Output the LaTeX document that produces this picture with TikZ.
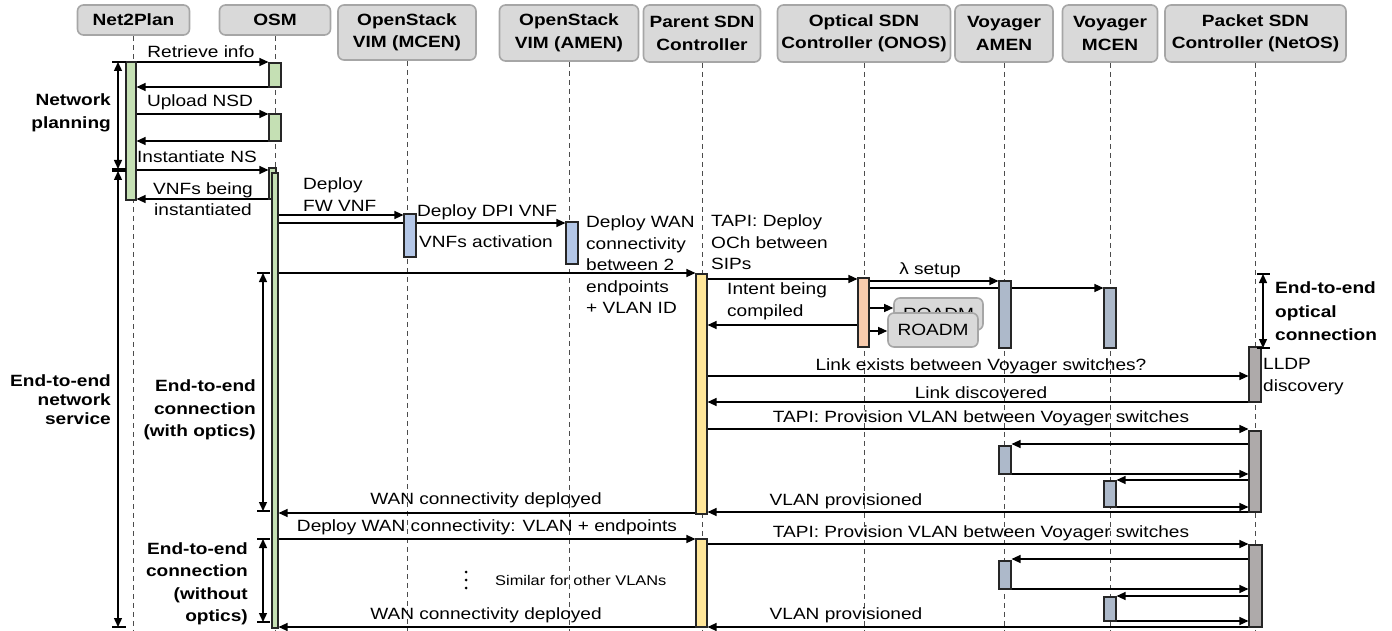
\documentclass[tikz,border=0pt]{standalone}
\usepackage{fontspec}
\setmainfont{Liberation Sans}[FakeStretch=1.17]
\usetikzlibrary{arrows.meta,fit,backgrounds}
\definecolor{hdrfill}{HTML}{D9D9D9}
\definecolor{hdrline}{HTML}{A6A6A6}
\definecolor{cgreen}{HTML}{C5E0B4}
\definecolor{cblue}{HTML}{B4C7E7}
\definecolor{cyellow}{HTML}{FFE699}
\definecolor{corange}{HTML}{F8CBAD}
\definecolor{cslate}{HTML}{ADB9CA}
\definecolor{cgray}{HTML}{AEAAAA}
\tikzset{
  basefont/.style={font=\fontsize{16.3}{21.5}\selectfont},
  hdr/.style={draw=hdrline, fill=hdrfill, line width=1.6pt, rounded corners=6pt, align=center,
    inner sep=0pt, font=\fontsize{16.3}{22.5}\selectfont\bfseries},
  roadm/.style={draw=hdrline, fill=hdrfill, line width=1.6pt, rounded corners=6pt, inner sep=0pt,
    font=\fontsize{16.3}{21.5}\selectfont},
  actbar/.style={draw=black!85, line width=1.1pt, inner sep=0pt, fill=#1},
  msg/.style={line width=1.2pt, -{Triangle[length=9pt,width=8pt]}},
  life/.style={draw=black!70, line width=0.9pt, dash pattern=on 5pt off 4pt},
  lbl/.style={inner sep=0pt, align=center, basefont},
  lbll/.style={inner sep=0pt, align=left, basefont},
  blbl/.style={inner sep=0pt, align=right, font=\fontsize{16.3}{22.5}\selectfont\bfseries},
  spanarrow/.style={line width=1.4pt, {Triangle[length=9pt,width=8pt]}-{Triangle[length=9pt,width=8pt]}},
  tbar/.style={line width=1.4pt},
}
\pgfdeclarelayer{bg}
\pgfsetlayers{bg,main}
\begin{document}
\begin{tikzpicture}[x=1pt,y=-1pt]
\useasboundingbox (0,0) rectangle (1392,631);

% ---------- headers ----------
\node[hdr, minimum width=112pt, minimum height=30pt] (hN) at (133.5,20) {Net2Plan};
\node[hdr, minimum width=111pt, minimum height=30pt] (hO) at (275,20) {OSM};
\node[hdr, minimum width=138pt, minimum height=55pt] (hM) at (407,32.5) {OpenStack\\VIM (MCEN)};
\node[hdr, minimum width=139pt, minimum height=56pt] (hA) at (569,33) {OpenStack\\VIM (AMEN)};
\node[hdr, minimum width=117pt, minimum height=57pt] (hP) at (702,33.5) {Parent SDN\\Controller};
\node[hdr, minimum width=173pt, minimum height=57pt] (hQ) at (864,33.5) {Optical SDN\\Controller (ONOS)};
\node[hdr, minimum width=98pt, minimum height=57pt] (hVA) at (1004,33.5) {Voyager\\AMEN};
\node[hdr, minimum width=95pt, minimum height=57pt] (hVM) at (1110,33.5) {Voyager\\MCEN};
\node[hdr, minimum width=181pt, minimum height=57pt] (hK) at (1255.5,33.5) {Packet SDN\\Controller (NetOS)};

% lifeline ends
\coordinate (eN) at (133.5,631);
\coordinate (eO) at (275,631);
\coordinate (eM) at (407,631);
\coordinate (eA) at (569,631);
\coordinate (eP) at (702,631);
\coordinate (eQ) at (864,631);
\coordinate (eVA) at (1004,631);
\coordinate (eVM) at (1110,631);
\coordinate (eK) at (1255.5,631);

% ---------- activation bars ----------
\node[actbar=cgreen, fit={(126,62)(136,200)}] (bN) {};
\node[actbar=cgreen, fit={(269,63)(281,87)}] (bO1) {};
\node[actbar=cgreen, fit={(269,114)(281,141)}] (bO2) {};
\node[actbar=cgreen, fit={(269,168)(276,199)}] (bO3) {};
\node[actbar=cgreen, fit={(272,173)(278,628)}] (bO4) {};
\node[actbar=cblue, fit={(404,214)(416,257)}] (bM) {};
\node[actbar=cblue, fit={(566,222)(578,264)}] (bA) {};
\node[actbar=cyellow, fit={(696,274)(707,514)}] (bP1) {};
\node[actbar=cyellow, fit={(696,539)(707,627)}] (bP2) {};
\node[actbar=corange, fit={(858,278)(869,347)}] (bQ) {};
\node[actbar=cslate, fit={(999,281)(1011,348)}] (bVA1) {};
\node[actbar=cslate, fit={(1104,288)(1116,348)}] (bVM1) {};
\node[actbar=cgray, fit={(1249,347)(1261,402)}] (bK1) {};
\node[actbar=cgray, fit={(1249,431)(1261,512)}] (bK2) {};
\node[actbar=cslate, fit={(999,446)(1011,474)}] (bVA2) {};
\node[actbar=cslate, fit={(1104,481)(1116,507)}] (bVM2) {};
\node[actbar=cgray, fit={(1249,545)(1262,627)}] (bK3) {};
\node[actbar=cslate, fit={(999,561)(1011,589)}] (bVA3) {};
\node[actbar=cslate, fit={(1104,597)(1116,621)}] (bVM3) {};

% ROADM boxes
\node[roadm, minimum width=89pt, minimum height=32pt] (rB) at (938.5,314) {ROADM};
\node[roadm, minimum width=90pt, minimum height=34pt] (rF) at (933,330) {ROADM};

% ---------- lifelines and messages (background) ----------
\begin{pgfonlayer}{bg}
\draw[life] (hN.south) -- (eN);
\draw[life] (hO.south) -- (eO);
\draw[life] (hM.south) -- (eM);
\draw[life] (hA.south) -- (eA);
\draw[life] (hP.south) -- (eP);
\draw[life] (hQ.south) -- (eQ);
\draw[life] (hVA.south) -- (eVA);
\draw[life] (hVM.south) -- (eVM);
\draw[life] (hK.south) -- (eK);

\draw[msg] (bN.east |- 0,62) -- (bO1.west |- 0,62);
\draw[msg] (bO1.west |- 0,87) -- (bN.east |- 0,87);
\draw[msg] (bN.east |- 0,114) -- (bO2.west |- 0,114);
\draw[msg] (bO2.west |- 0,141) -- (bN.east |- 0,141);
\draw[msg] (bN.east |- 0,170) -- (bO3.west |- 0,170);
\draw[msg] (bO3.west |- 0,199) -- (bN.east |- 0,199);
\draw[msg] (bO4.east |- 0,215) -- (bM.west |- 0,215);
\draw[msg] (bO4.east |- 0,223) -- (bA.west |- 0,223);
\draw[msg] (bO4.east |- 0,273) -- (bP1.west |- 0,273);
\draw[msg] (bP1.east |- 0,279) -- (bQ.west |- 0,279);
\draw[msg] (bQ.west |- 0,325) -- (bP1.east |- 0,325);
\draw[msg] (bQ.east |- 0,308) -- (rB.west |- 0,308);
\draw[msg] (bQ.east |- 0,331) -- (rF.west |- 0,331);
\draw[msg] (bQ.east |- 0,281) -- (bVA1.west |- 0,281);
\draw[msg] (bQ.east |- 0,288) -- (bVM1.west |- 0,288);
\draw[msg] (bP1.east |- 0,376) -- (bK1.west |- 0,376);
\draw[msg] (bK1.west |- 0,402) -- (bP1.east |- 0,402);
\draw[msg] (bP1.east |- 0,429) -- (bK2.west |- 0,429);
\draw[msg] (bK2.west |- 0,444) -- (bVA2.east |- 0,444);
\draw[msg] (bVA2.east |- 0,474) -- (bK2.west |- 0,474);
\draw[msg] (bK2.west |- 0,480) -- (bVM2.east |- 0,480);
\draw[msg] (bVM2.east |- 0,507) -- (bK2.west |- 0,507);
\draw[msg] (bK2.west |- 0,512) -- (bP1.east |- 0,512);
\draw[msg] (bP1.west |- 0,513) -- (bO4.east |- 0,513);
\draw[msg] (bO4.east |- 0,539) -- (bP2.west |- 0,539);
\draw[msg] (bP2.east |- 0,544) -- (bK3.west |- 0,544);
\draw[msg] (bK3.west |- 0,559) -- (bVA3.east |- 0,559);
\draw[msg] (bVA3.east |- 0,589) -- (bK3.west |- 0,589);
\draw[msg] (bK3.west |- 0,596) -- (bVM3.east |- 0,596);
\draw[msg] (bVM3.east |- 0,621) -- (bK3.west |- 0,621);
\draw[msg] (bK3.west |- 0,627) -- (bP2.east |- 0,627);
\draw[msg] (bP2.west |- 0,627) -- (bO4.east |- 0,627);
\end{pgfonlayer}

% ---------- message labels ----------
\node[lbl] (tRet) at (201,52) {Retrieve info};
\node[lbl] (tUp) at (200,102) {Upload NSD};
\node[lbl] (tInst) at (197,157) {Instantiate NS};
\node[lbl] (tBeing) at (203,199) {VNFs being\\instantiated};
\node[lbll, anchor=west] (tFW) at (303,194.5) {Deploy\\FW VNF};
\node[lbll, anchor=west] (tDPI) at (417,212) {Deploy DPI VNF};
\node[lbll, anchor=west] (tAct) at (419,242) {VNFs activation};
\node[lbll, anchor=west] (tWAN) at (586,265) {Deploy WAN\\connectivity\\between 2\\endpoints\\+ VLAN ID};
\node[lbll, anchor=west] (tOCh) at (711,242.5) {TAPI: Deploy\\OCh between\\SIPs};
\node[lbll, anchor=west] (tIntent) at (727,301.5) {Intent being\\compiled};
\node[lbl] (tLam) at (930,270) {λ setup};
\node[lbl] (tLink) at (981,366) {Link exists between Voyager switches?};
\node[lbl] (tDisc) at (981,393) {Link discovered};
\node[lbl] (tProv1) at (981,418) {TAPI: Provision VLAN between Voyager switches};
\node[lbl] (tVP1) at (846,501) {VLAN provisioned};
\node[lbl] (tWD1) at (486,500) {WAN connectivity deployed};
\node[lbl] (tDW) at (487,527) {Deploy WAN connectivity: VLAN + endpoints};
\node[lbl] (tProv2) at (981,533) {TAPI: Provision VLAN between Voyager switches};
\node[lbl] (tVP2) at (846,615) {VLAN provisioned};
\node[lbl] (tWD2) at (486,615) {WAN connectivity deployed};
\node[lbll, anchor=west] (tLLDP) at (1263,376.5) {LLDP\\discovery};
\node[inner sep=0pt, anchor=west, font=\fontsize{14}{16}\selectfont] (tSim) at (495,580) {Similar for other VLANs};
\fill (466,572) circle[radius=1.5pt];
\fill (466,580) circle[radius=1.5pt];
\fill (466,588) circle[radius=1.5pt];

% ---------- phase annotations ----------
\coordinate (npA) at (118,62);
\coordinate (npB) at (118,169);
\draw[spanarrow] (npA) -- (npB);
\draw[tbar] (112,62) -- (126,62);
\draw[tbar] (112,169) -- (126,169);
\node[blbl, anchor=east] (tNP) at (111,113) {Network\\planning};

\coordinate (nsA) at (118,171);
\coordinate (nsB) at (118,627);
\draw[spanarrow] (nsA) -- (nsB);
\draw[tbar] (112,171) -- (126,171);
\draw[tbar] (112,627) -- (126,627);
\node[blbl, anchor=east, font=\fontsize{16.3}{19}\selectfont\bfseries] (tNS) at (111,400) {End-to-end\\network\\service};

\coordinate (woA) at (263,273);
\coordinate (woB) at (263,511);
\draw[spanarrow] (woA) -- (woB);
\draw[tbar] (257,273) -- (270,273);
\draw[tbar] (257,511) -- (270,511);
\node[blbl, anchor=east] (tWO) at (256,410) {End-to-end\\connection\\(with optics)};

\coordinate (noA) at (263,539);
\coordinate (noB) at (263,622);
\draw[spanarrow] (noA) -- (noB);
\draw[tbar] (257,539) -- (270,539);
\draw[tbar] (257,622) -- (270,622);
\node[blbl, anchor=east] (tNO) at (248,584) {End-to-end\\connection\\(without\\optics)};

\coordinate (ocA) at (1263,274);
\coordinate (ocB) at (1263,348);
\draw[spanarrow] (ocA) -- (ocB);
\draw[tbar] (1257,274) -- (1270,274);
\draw[tbar] (1257,348) -- (1270,348);
\node[blbl, anchor=west, align=left, font=\fontsize{16.3}{23.5}\selectfont\bfseries] (tOC) at (1275,311.5) {End-to-end\\optical\\connection};
\end{tikzpicture}
\end{document}
